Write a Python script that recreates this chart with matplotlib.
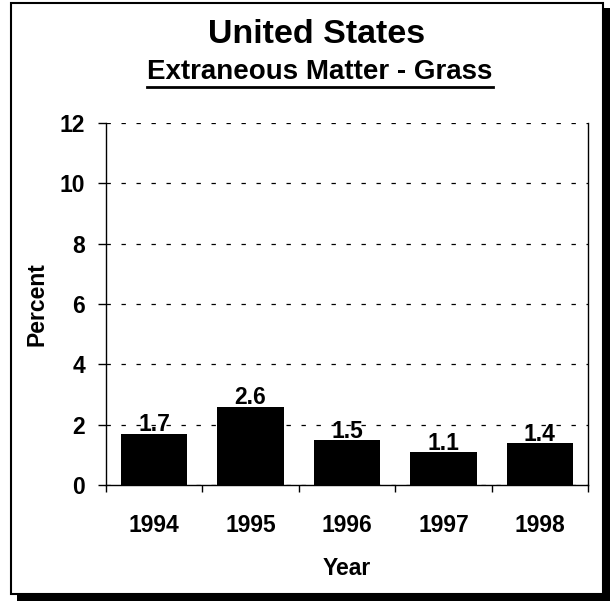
import matplotlib.pyplot as plt
from matplotlib.patches import Rectangle
from matplotlib.lines import Line2D
import numpy as np

# Extraneous matter (grass) by year
years = ["1994", "1995", "1996", "1997", "1998"]
percent = [1.7, 2.6, 1.5, 1.1, 1.4]
y_ticks = [0, 2, 4, 6, 8, 10, 12]

plt.rcParams["font.family"] = ["Liberation Sans", "DejaVu Sans"]
plt.rcParams["font.weight"] = "bold"

W, H = 610, 601
fig = plt.figure(figsize=(W / 100, H / 100), dpi=100)

def px(x0, y0, x1, y1):
    # pixel box (top-left origin) -> figure fraction rect
    return (x0 / W, 1 - y1 / H, (x1 - x0) / W, (y1 - y0) / H)

# drop shadow + framed panel, kept behind the axes
sx, sy, sw, sh = px(17, 8, 610, 601)
fig.patches.append(Rectangle((sx, sy), sw, sh, transform=fig.transFigure,
                             facecolor="black", edgecolor="none", zorder=-3))
fx, fy, fw, fh = px(11, 3, 603, 594)
fig.patches.append(Rectangle((fx, fy), fw, fh, transform=fig.transFigure,
                             facecolor="white", edgecolor="black", linewidth=1.5, zorder=-2))

ax = fig.add_axes(px(106, 123, 588, 485))
ax.patch.set_alpha(0)
x = np.arange(len(years))
ax.bar(x, percent, width=0.69, color="black", zorder=3)

for xi, v in zip(x, percent):
    ax.annotate(f"{v:.1f}", (xi, v), xytext=(0, -2), textcoords="offset points",
                ha="center", va="bottom", fontsize=16.5, fontweight="bold", zorder=4)

ax.set_xlim(-0.5, len(years) - 0.5)
ax.set_ylim(0, 12)
ax.set_yticks(y_ticks)
ax.set_xticks(x)
ax.set_xticklabels(years)
ax.set_xticks(np.arange(-0.5, len(years)), minor=True)
ax.tick_params(axis="x", which="major", length=0, pad=21, labelsize=16.5)
ax.tick_params(axis="x", which="minor", length=5, width=1, direction="out")
ax.tick_params(axis="y", length=6, width=1, direction="out", pad=9, labelsize=16.5)

ax.yaxis.grid(True, color="black", linewidth=0.9, linestyle=(0, (3.5, 8.5)))
ax.set_axisbelow(True)
ax.spines["top"].set_visible(False)
for s in ["left", "right", "bottom"]:
    ax.spines[s].set_linewidth(1)

ax.set_xlabel("Year", fontsize=16.5, fontweight="bold", labelpad=14)
ax.set_ylabel("Percent", fontsize=16.5, fontweight="bold", labelpad=8)

fig.text(317 / W, 1 - 43 / H, "United States", ha="center", va="baseline",
         fontsize=24.5, fontweight="bold")
sub = fig.text(320 / W, 1 - 79 / H, "Extraneous Matter - Grass", ha="center",
               va="baseline", fontsize=20, fontweight="bold")

# underline the subtitle to its rendered width
fig.canvas.draw()
bb = sub.get_window_extent().transformed(fig.transFigure.inverted())
uy = 1 - 87 / H
fig.lines.append(Line2D([bb.x0, bb.x1], [uy, uy], transform=fig.transFigure,
                        color="black", linewidth=2))

fig.savefig("out.png", dpi=100)
